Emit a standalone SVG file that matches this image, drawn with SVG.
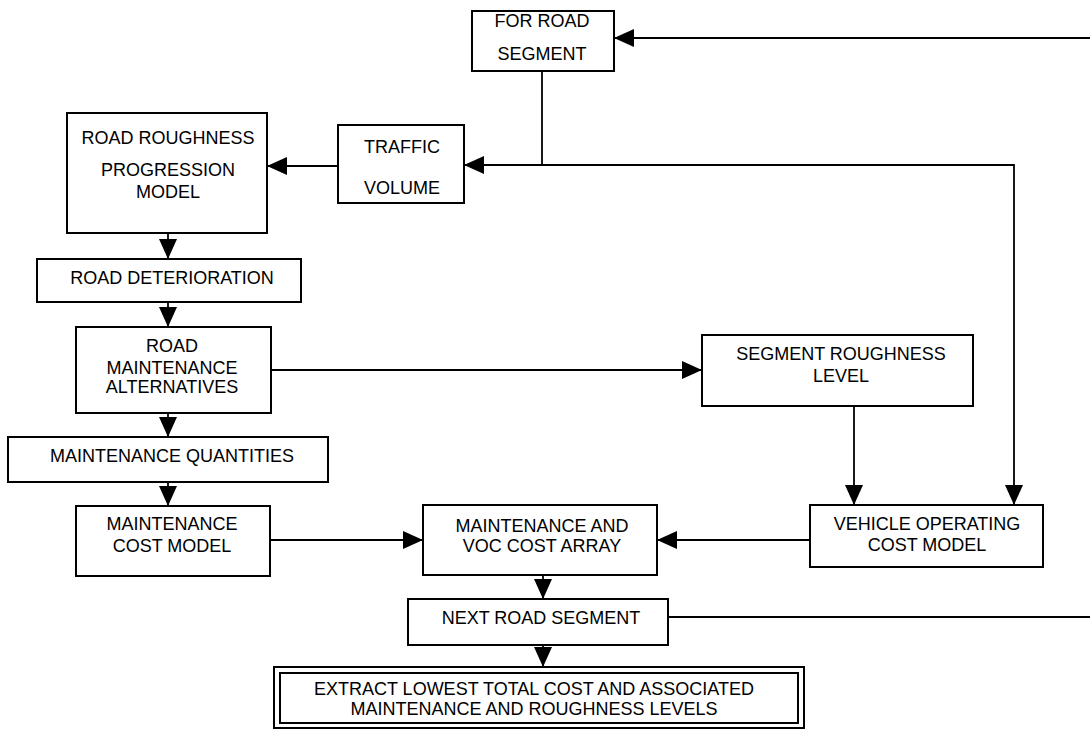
<svg xmlns="http://www.w3.org/2000/svg" width="1090" height="729" viewBox="0 0 1090 729">
<style>
.box{fill:#fff;stroke:#000;stroke-width:2}
.inner{fill:none;stroke:#000;stroke-width:2}
.con{fill:none;stroke:#000;stroke-width:1.8}
text{font-family:"Liberation Sans",Arial,sans-serif;font-size:18px;fill:#000;text-anchor:middle}
</style>
<defs>
<marker id="ah" viewBox="0 0 20 18" refX="20" refY="9" markerWidth="20" markerHeight="18" markerUnits="userSpaceOnUse" orient="auto">
<path d="M0,0 L20,9 L0,18 z" fill="#000"/>
</marker>
</defs>
<rect width="1090" height="729" fill="#fff"/>
<g id="connectors">
<path class="con" d="M1090,38 H614" marker-end="url(#ah)"/>
<path class="con" d="M542,71 V165 H464" marker-end="url(#ah)"/>
<path class="con" d="M542,165 H1014 V505" marker-end="url(#ah)"/>
<path class="con" d="M338,166 H267" marker-end="url(#ah)"/>
<path class="con" d="M168,233 V259" marker-end="url(#ah)"/>
<path class="con" d="M168,302 V327" marker-end="url(#ah)"/>
<path class="con" d="M271,370 H702" marker-end="url(#ah)"/>
<path class="con" d="M168,413 V437" marker-end="url(#ah)"/>
<path class="con" d="M168,482 V506" marker-end="url(#ah)"/>
<path class="con" d="M270,540 H423" marker-end="url(#ah)"/>
<path class="con" d="M854,406 V505" marker-end="url(#ah)"/>
<path class="con" d="M810,540 H657" marker-end="url(#ah)"/>
<path class="con" d="M543,575 V599" marker-end="url(#ah)"/>
<path class="con" d="M668,617 H1090"/>
<path class="con" d="M543,645 V667" marker-end="url(#ah)"/>
</g>
<g id="for-road-segment">
<rect class="box" x="472" y="11" width="142" height="60"/>
<text x="542" y="27">FOR ROAD</text>
<text x="542" y="60">SEGMENT</text>
</g>
<g id="road-roughness-progression-model">
<rect class="box" x="67" y="113" width="200" height="120"/>
<text x="168" y="144">ROAD ROUGHNESS</text>
<text x="168" y="176">PROGRESSION</text>
<text x="168" y="198">MODEL</text>
</g>
<g id="traffic-volume">
<rect class="box" x="338" y="125" width="126" height="78"/>
<text x="402" y="153">TRAFFIC</text>
<text x="402" y="194">VOLUME</text>
</g>
<g id="road-deterioration">
<rect class="box" x="37" y="259" width="264" height="43"/>
<text x="172" y="284">ROAD DETERIORATION</text>
</g>
<g id="road-maintenance-alternatives">
<rect class="box" x="76" y="327" width="195" height="86"/>
<text x="172" y="352">ROAD</text>
<text x="172" y="374">MAINTENANCE</text>
<text x="172" y="393">ALTERNATIVES</text>
</g>
<g id="maintenance-quantities">
<rect class="box" x="8" y="437" width="320" height="45"/>
<text x="172" y="462">MAINTENANCE QUANTITIES</text>
</g>
<g id="maintenance-cost-model">
<rect class="box" x="76" y="506" width="194" height="70"/>
<text x="172" y="530">MAINTENANCE</text>
<text x="172" y="552">COST MODEL</text>
</g>
<g id="maintenance-voc-cost-array">
<rect class="box" x="423" y="505" width="234" height="70"/>
<text x="542" y="532">MAINTENANCE AND</text>
<text x="542" y="552">VOC COST ARRAY</text>
</g>
<g id="next-road-segment">
<rect class="box" x="408" y="599" width="260" height="46"/>
<text x="541" y="624">NEXT ROAD SEGMENT</text>
</g>
<g id="extract-lowest-total-cost">
<rect class="box" x="274" y="667" width="530" height="61"/>
<rect class="inner" x="280" y="673" width="518" height="50"/>
<text x="534" y="695">EXTRACT LOWEST TOTAL COST AND ASSOCIATED</text>
<text x="534" y="715">MAINTENANCE AND ROUGHNESS LEVELS</text>
</g>
<g id="segment-roughness-level">
<rect class="box" x="702" y="335" width="271" height="71"/>
<text x="841" y="360">SEGMENT ROUGHNESS</text>
<text x="841" y="382">LEVEL</text>
</g>
<g id="vehicle-operating-cost-model">
<rect class="box" x="810" y="505" width="233" height="62"/>
<text x="927" y="530">VEHICLE OPERATING</text>
<text x="927" y="551">COST MODEL</text>
</g>
</svg>
